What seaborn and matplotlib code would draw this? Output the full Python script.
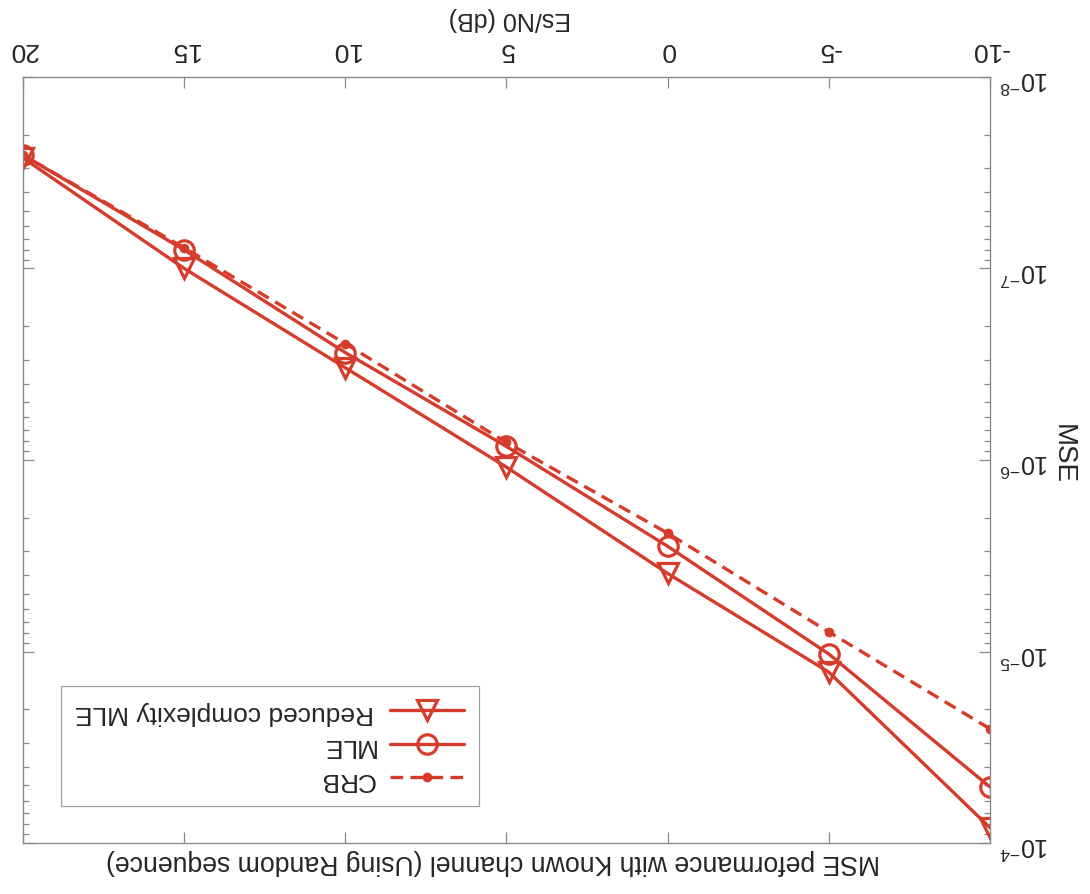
import numpy as np
import pandas as pd
import matplotlib
matplotlib.use("Agg")
import matplotlib.pyplot as plt
import seaborn as sns

# Data (Es/N0 in dB and MSE values)
snr_db = [-10, -5, 0, 5, 10, 15, 20]
crb = [2.53e-5, 7.9e-6, 2.41e-6, 8.1e-7, 2.47e-7, 7.8e-8, 2.56e-8]
mle = [5.09e-5, 1.03e-5, 2.82e-6, 8.5e-7, 2.75e-7, 8.0e-8, 2.56e-8]
reduced_mle = [8.3e-5, 1.28e-5, 3.91e-6, 1.09e-6, 3.3e-7, 1.0e-7, 2.65e-8]
x_ticks = [-10, -5, 0, 5, 10, 15, 20]
y_ticks = [1e-8, 1e-7, 1e-6, 1e-5, 1e-4]
y_tick_labels = [r"$10^{-8}$", r"$10^{-7}$", r"$10^{-6}$", r"$10^{-5}$", r"$10^{-4}$"]

title_text = "MSE peformance with Known channel (Using Random sequence)"
xlabel_text = "Es/N0 (dB)"
ylabel_text = "MSE"

sns.set_theme(style="white")
plt.rcParams["font.family"] = ["Liberation Sans", "DejaVu Sans"]
plt.rcParams["mathtext.fontset"] = "custom"
plt.rcParams["mathtext.rm"] = "Liberation Sans"
plt.rcParams["mathtext.default"] = "regular"

red = "#d63c2c"
axis_col = "#8a8a8a"

fig = plt.figure(figsize=(10.9, 8.94), dpi=100)
ax = fig.add_axes([0.0211, 0.057, 0.887, 0.857])

df = pd.DataFrame({"snr": snr_db, "crb": crb, "mle": mle, "red": reduced_mle})

sns.lineplot(data=df, x="snr", y="crb", ax=ax, color=red, linestyle=(0, (3.8, 2.2)),
             linewidth=2.4, marker="o", markersize=6, markeredgecolor=red,
             markerfacecolor=red, markeredgewidth=1, label="CRB")
sns.lineplot(data=df, x="snr", y="mle", ax=ax, color=red, linewidth=2.4,
             marker="o", markersize=14, markeredgecolor=red, markerfacecolor="none",
             markeredgewidth=2.3, label="MLE")
sns.lineplot(data=df, x="snr", y="red", ax=ax, color=red, linewidth=2.4,
             marker="v", markersize=15, markeredgecolor=red, markerfacecolor="none",
             markeredgewidth=2.3, label="Reduced complexity MLE")

ax.set_yscale("log")
# The reference is shown rotated by 180 degrees
ax.set_xlim(20, -10)
ax.set_ylim(1e-4, 1e-8)
ax.set_xticks(x_ticks)
ax.set_xticklabels([str(v) for v in x_ticks])
ax.set_yticks(y_ticks)
ax.set_yticklabels(y_tick_labels)

ax.xaxis.tick_top()
ax.yaxis.tick_right()
ax.tick_params(axis="both", which="both", direction="in", top=True, bottom=True,
               left=True, right=True, color=axis_col, width=0.9)
ax.tick_params(axis="both", which="major", length=8)
ax.tick_params(axis="y", which="minor", length=4)
ax.tick_params(axis="x", labelrotation=180, labelsize=19, pad=11, labeltop=True, labelbottom=False)
ax.tick_params(axis="y", labelrotation=180, labelsize=18, pad=7, labelright=True, labelleft=False)

for sp in ax.spines.values():
    sp.set_color(axis_col)
    sp.set_linewidth(1.0)

ax.set_xlabel("")
ax.set_ylabel("")
fig.text(0.468, 0.979, xlabel_text, rotation=180, ha="center", va="center", fontsize=18)
fig.text(0.975, 0.492, ylabel_text, rotation=270, ha="center", va="center", fontsize=20)
fig.text(0.452, 0.036, title_text, rotation=180, ha="center", va="center", fontsize=19.2)

h, l = ax.get_legend_handles_labels()
order = [2, 1, 0]
leg = ax.legend([h[i] for i in order], [l[i] for i in order], loc="lower left",
                bbox_to_anchor=(0.0255, 0.031), markerfirst=False, fontsize=19,
                frameon=True, fancybox=False, edgecolor=axis_col, handlelength=2.8,
                borderpad=0.55, labelspacing=0.36, handletextpad=0.6)
leg.get_frame().set_linewidth(0.9)
for t in leg.get_texts():
    t.set_rotation(180)

fig.savefig("out.png", dpi=100, facecolor="white")
